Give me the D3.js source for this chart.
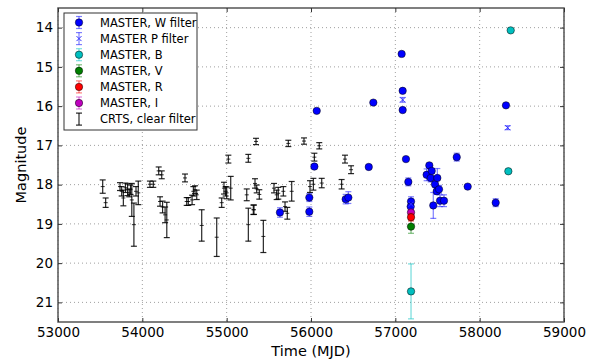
<!DOCTYPE html>
<html>
<head>
<meta charset="utf-8">
<script src="https://cdn.jsdelivr.net/npm/d3@7"></script>
<style>
  body { margin: 0; background: #fff; }
  text { font-family: "DejaVu Sans", sans-serif; }
</style>
</head>
<body>
<script>
// CRTS, clear filter: [mjd, mag, err]
const crts = [
  [53530, 18.05, 0.17], [53565, 18.46, 0.12], [53735, 18.05, 0.1], [53755, 18.17, 0.12],
  [53775, 18.34, 0.2], [53800, 18.08, 0.12], [53825, 18.13, 0.15], [53845, 18.21, 0.1],
  [53860, 18.13, 0.12], [53875, 18.39, 0.42], [53900, 19.02, 0.55], [53925, 18.17, 0.12],
  [53952, 18.21, 0.3], [54090, 17.99, 0.08], [54130, 17.99, 0.08], [54194, 17.65, 0.1],
  [54230, 17.75, 0.1], [54210, 18.43, 0.12], [54240, 18.57, 0.15], [54270, 18.77, 0.2],
  [54290, 18.9, 0.45], [54506, 17.83, 0.1], [54526, 18.43, 0.1], [54545, 18.43, 0.1],
  [54590, 18.39, 0.12], [54605, 18.17, 0.12], [54625, 18.13, 0.1], [54645, 18.26, 0.12],
  [54704, 19.04, 0.4], [54882, 19.34, 0.49], [54941, 18.46, 0.12], [54968, 18.09, 0.15],
  [54988, 18.17, 0.12], [55000, 18.21, 0.15], [55020, 17.35, 0.1], [55048, 18.09, 0.3],
  [55238, 18.26, 0.15], [55257, 17.33, 0.1], [55257, 19.02, 0.42], [55316, 18.64, 0.12],
  [55336, 17.97, 0.12], [55348, 16.9, 0.08], [55356, 18.11, 0.1], [55387, 18.25, 0.12],
  [55324, 18.64, 0.12], [55435, 19.32, 0.41], [55561, 18.09, 0.12], [55593, 18.26, 0.12],
  [55612, 18.22, 0.15], [55672, 18.17, 0.12], [55692, 18.56, 0.12], [55719, 18.73, 0.15],
  [55771, 18.17, 0.25], [55731, 16.95, 0.08], [55917, 16.89, 0.08], [56098, 17.01, 0.08],
  [56040, 17.3, 0.1], [55988, 18.05, 0.15], [56028, 17.99, 0.15], [56127, 17.96, 0.12],
  [56363, 17.99, 0.12], [56403, 17.35, 0.1], [56475, 17.62, 0.1]
];

// MASTER W filter
const masterW = [
  [55632, 18.71, 0.12], [55980, 18.33, 0.1], [55980, 18.69, 0.12], [56040, 17.54, 0.05],
  [56068, 16.12, 0.03], [56411, 18.37, 0.12], [56443, 18.33, 0.15], [56685, 17.55, 0.05],
  [56739, 15.91, 0.03], [57075, 14.67, 0.02], [57087, 15.61, 0.03], [57087, 16.1, 0.03],
  [57126, 17.35, 0.03], [57154, 17.93, 0.1], [57186, 18.43, 0.12], [57182, 18.56, 0.12],
  [57371, 17.75, 0.15], [57403, 17.51, 0.05], [57419, 17.83, 0.1], [57431, 17.65, 0.06],
  [57450, 18.53, 0.33], [57470, 17.99, 0.08], [57491, 18.17, 0.08], [57498, 17.83, 0.24],
  [57518, 18.12, 0.1], [57530, 18.41, 0.15], [57577, 18.41, 0.15], [57728, 17.3, 0.1],
  [57858, 18.05, 0.05], [58190, 18.46, 0.1], [58312, 15.98, 0.03]
];
const masterP = [[57087, 15.84, 0.06], [58332, 16.55, 0.05], [57186, 18.5, 0.08]];
const masterB = [[57186, 20.72, 0.7], [58340, 17.66, 0.04], [58368, 14.07, 0.04]];
const masterV = [[57186, 19.07, 0.17]];
const masterR = [[57186, 18.83, 0.1]];
const masterI = [[57186, 18.71, 0.08]];

const xTicks = [53000, 54000, 55000, 56000, 57000, 58000, 59000];
const yTicks = [14, 15, 16, 17, 18, 19, 20, 21];

const W = 598, H = 360;
const m = { left: 58, right: 34, top: 8, bottom: 38 };

const svg = d3.select("body").append("svg")
  .attr("width", W).attr("height", H);

const x = d3.scaleLinear().domain([53000, 59000]).range([m.left, W - m.right]);
const y = d3.scaleLinear().domain([13.5, 21.5]).range([m.top, H - m.bottom]);

svg.append("clipPath").attr("id", "clip").append("rect")
  .attr("x", m.left).attr("y", m.top)
  .attr("width", W - m.left - m.right).attr("height", H - m.top - m.bottom);

// grid
const grid = svg.append("g").attr("stroke", "#888").attr("stroke-width", 0.8)
  .attr("stroke-dasharray", "1,3");
xTicks.forEach(t => grid.append("line")
  .attr("x1", x(t)).attr("x2", x(t)).attr("y1", m.top).attr("y2", H - m.bottom));
yTicks.forEach(t => grid.append("line")
  .attr("x1", m.left).attr("x2", W - m.right).attr("y1", y(t)).attr("y2", y(t)));

const plot = svg.append("g").attr("clip-path", "url(#clip)");

function drawErr(data, color, alpha) {
  const g = plot.append("g");
  data.forEach(d => {
    const cx = x(d[0]), y1 = y(d[1] - d[2]), y2 = y(d[1] + d[2]);
    g.append("line").attr("x1", cx).attr("x2", cx).attr("y1", y1).attr("y2", y2)
      .attr("stroke", color).attr("stroke-width", 1.2).attr("stroke-opacity", alpha);
    [y1, y2].forEach(yy => g.append("line")
      .attr("x1", cx - 3).attr("x2", cx + 3).attr("y1", yy).attr("y2", yy)
      .attr("stroke", color).attr("stroke-width", 1.2).attr("stroke-opacity", alpha));
  });
}

function drawDots(data, fill) {
  plot.append("g").selectAll("circle").data(data).join("circle")
    .attr("cx", d => x(d[0])).attr("cy", d => y(d[1])).attr("r", 3.7)
    .attr("fill", fill).attr("stroke", "#000").attr("stroke-width", 0.5);
}

const crossPath = (cx, cy) =>
  `M${cx - 2.5},${cy - 2.5}L${cx + 2.5},${cy + 2.5}M${cx - 2.5},${cy + 2.5}L${cx + 2.5},${cy - 2.5}`;

// CRTS
drawErr(crts, "#000", 0.85);
plot.append("g").selectAll("line").data(crts).join("line")
  .attr("x1", d => x(d[0]) - 2).attr("x2", d => x(d[0]) + 2)
  .attr("y1", d => y(d[1])).attr("y2", d => y(d[1]))
  .attr("stroke", "#000").attr("stroke-width", 0.8);

drawErr(masterW, "#0000ff", 0.5);
drawDots(masterW, "#0000ff");
drawErr(masterP, "#0000ff", 0.5);
plot.append("g").selectAll("path").data(masterP).join("path")
  .attr("d", d => crossPath(x(d[0]), y(d[1])))
  .attr("stroke", "#3333ff").attr("stroke-width", 1);
drawErr(masterB, "#00bfbf", 0.55);
drawDots(masterB, "#00bfbf");
drawErr(masterV, "#008000", 0.5);
drawDots(masterV, "#008000");
drawErr(masterI, "#bf00bf", 0.5);
drawDots(masterI, "#bf00bf");
drawErr(masterR, "#ff0000", 0.5);
drawDots(masterR, "#ff0000");

// axes frame
svg.append("rect").attr("x", m.left).attr("y", m.top)
  .attr("width", W - m.left - m.right).attr("height", H - m.top - m.bottom)
  .attr("fill", "none").attr("stroke", "#555").attr("stroke-width", 1.5);

const xAxis = svg.append("g").attr("transform", `translate(0,${H - m.bottom})`)
  .call(d3.axisBottom(x).tickValues(xTicks).tickFormat(d3.format("d")).tickSizeInner(-4).tickSizeOuter(0).tickPadding(5));
const xTop = svg.append("g").attr("transform", `translate(0,${m.top})`)
  .call(d3.axisTop(x).tickValues(xTicks).tickFormat("").tickSizeInner(-4).tickSizeOuter(0));
const yAxis = svg.append("g").attr("transform", `translate(${m.left},0)`)
  .call(d3.axisLeft(y).tickValues(yTicks).tickSizeInner(-4).tickSizeOuter(0).tickPadding(5));
const yRight = svg.append("g").attr("transform", `translate(${W - m.right},0)`)
  .call(d3.axisRight(y).tickValues(yTicks).tickFormat("").tickSizeInner(-4).tickSizeOuter(0));
[xAxis, xTop, yAxis, yRight].forEach(a => {
  a.select(".domain").remove();
  a.selectAll(".tick line").attr("stroke", "#333");
  a.selectAll("text").attr("font-size", 13.5).attr("fill", "#000")
    .attr("font-family", "DejaVu Sans, sans-serif");
});

svg.append("text").attr("x", (m.left + W - m.right) / 2).attr("y", H - 4)
  .attr("text-anchor", "middle").attr("font-size", 14.5).text("Time (MJD)");
svg.append("text").attr("transform", `translate(26,${(m.top + H - m.bottom) / 2}) rotate(-90)`)
  .attr("text-anchor", "middle").attr("font-size", 14.5).text("Magnitude");

// legend
const legendItems = [
  { label: "MASTER, W filter", color: "#0000ff", type: "dot" },
  { label: "MASTER P filter", color: "#0000ff", type: "cross" },
  { label: "MASTER, B", color: "#00bfbf", type: "dot" },
  { label: "MASTER, V", color: "#008000", type: "dot" },
  { label: "MASTER, R", color: "#ff0000", type: "dot" },
  { label: "MASTER, I", color: "#bf00bf", type: "dot" },
  { label: "CRTS, clear filter", color: "#000", type: "bar" }
];
const lg = svg.append("g");
lg.append("rect").attr("x", 64).attr("y", 13).attr("width", 133).attr("height", 117)
  .attr("fill", "#fff").attr("stroke", "#333").attr("stroke-width", 1);
legendItems.forEach((d, i) => {
  const cy = 22.5 + i * 16.1, cx = 79;
  const a = d.type === "bar" ? 0.85 : 0.5;
  lg.append("line").attr("x1", cx).attr("x2", cx).attr("y1", cy - 6).attr("y2", cy + 6)
    .attr("stroke", d.color).attr("stroke-opacity", a).attr("stroke-width", 1.2);
  [cy - 6, cy + 6].forEach(yy => lg.append("line").attr("x1", cx - 3).attr("x2", cx + 3)
    .attr("y1", yy).attr("y2", yy).attr("stroke", d.color).attr("stroke-opacity", a).attr("stroke-width", 1.2));
  if (d.type === "dot") {
    lg.append("circle").attr("cx", cx).attr("cy", cy).attr("r", 3.7)
      .attr("fill", d.color).attr("stroke", "#000").attr("stroke-width", 0.5);
  } else if (d.type === "cross") {
    lg.append("path").attr("d", crossPath(cx, cy))
      .attr("stroke", "#3333ff").attr("stroke-width", 1);
  }
  lg.append("text").attr("x", 100).attr("y", cy + 4).attr("font-size", 11.5).text(d.label);
});
</script>
</body>
</html>
